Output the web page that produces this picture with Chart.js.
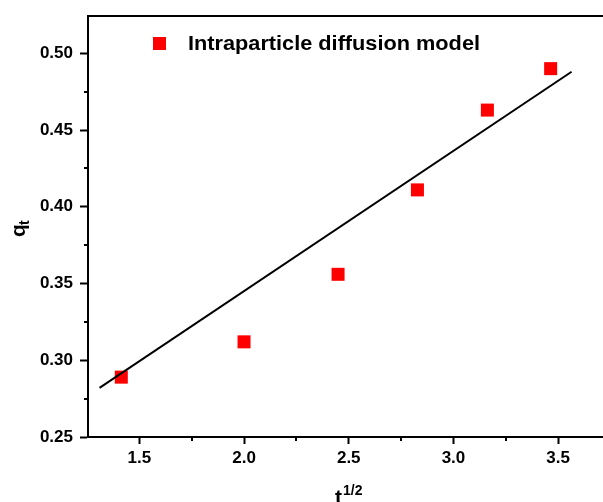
<!DOCTYPE html>
<html>
<head>
<meta charset="utf-8">
<script src="https://cdn.jsdelivr.net/npm/chart.js@4/dist/chart.umd.min.js"></script>
<style>
  html, body { margin: 0; padding: 0; background: #fff; overflow: hidden; }
  #wrap { width: 603px; height: 502px; position: relative; }
</style>
</head>
<body>
<div id="wrap"><canvas id="c" width="603" height="502"></canvas></div>
<script>
// ---- data ----
const tSqrt = [1.414, 2.000, 2.449, 2.828, 3.162, 3.464];
const qt    = [0.289, 0.312, 0.356, 0.411, 0.463, 0.490];
const fitX  = [1.31, 3.564];
const fitY  = [0.282, 0.488];
const seriesName = 'Intraparticle diffusion model';
const xMajorTicks = [1.5, 2.0, 2.5, 3.0, 3.5];
const xMinorTicks = [1.75, 2.25, 2.75, 3.25];
const yMajorTicks = [0.25, 0.30, 0.35, 0.40, 0.45, 0.50];
const yMinorTicks = [0.275, 0.325, 0.375, 0.425, 0.475];

const FONT = '"Liberation Sans", Arial, Helvetica, sans-serif';

const decorPlugin = {
  id: 'decor',
  afterDraw(chart) {
    const ctx = chart.ctx;
    const ca = chart.chartArea;
    const xs = chart.scales.x, ys = chart.scales.y;
    ctx.save();
    ctx.strokeStyle = '#000';
    ctx.lineWidth = 2;
    // top frame line
    ctx.beginPath();
    ctx.moveTo(ca.left - 1, ca.top);
    ctx.lineTo(ca.right + 2, ca.top);
    ctx.stroke();
    // minor ticks
    ctx.beginPath();
    xMinorTicks.forEach(v => {
      const px = Math.round(xs.getPixelForValue(v));
      ctx.moveTo(px, ca.bottom);
      ctx.lineTo(px, ca.bottom + 4);
    });
    yMinorTicks.forEach(v => {
      const py = Math.round(ys.getPixelForValue(v));
      ctx.moveTo(ca.left, py);
      ctx.lineTo(ca.left - 4, py);
    });
    ctx.stroke();

    // legend
    ctx.fillStyle = '#FF0000';
    ctx.fillRect(153, 37, 13, 13);
    ctx.fillStyle = '#000';
    ctx.textAlign = 'left';
    ctx.textBaseline = 'alphabetic';
    ctx.save();
    ctx.translate(188, 49.5);
    ctx.font = 'bold 20px ' + FONT;
    const w = ctx.measureText(seriesName).width;
    ctx.scale(292 / w, 1);
    ctx.fillText(seriesName, 0, 0);
    ctx.restore();

    // x axis title: t^{1/2}
    ctx.font = 'bold 21px ' + FONT;
    ctx.fillText('t', 335, 504);
    ctx.font = 'bold 14px ' + FONT;
    ctx.fillText('1/2', 343, 495);

    // y axis title: q_t (rotated)
    ctx.translate(25, 237);
    ctx.rotate(-Math.PI / 2);
    ctx.font = 'bold 21px ' + FONT;
    ctx.fillText('q', 0, 0);
    ctx.font = 'bold 14px ' + FONT;
    ctx.fillText('t', 12, 4);
    ctx.restore();
  }
};

const tickFont = { family: FONT, size: 17, weight: 'bold' };

new Chart(document.getElementById('c'), {
  type: 'scatter',
  data: {
    datasets: [
      {
        type: 'line',
        label: 'fit',
        data: fitX.map((x, i) => ({ x: x, y: fitY[i] })),
        borderColor: '#000',
        borderWidth: 2,
        pointRadius: 0,
        fill: false,
        order: 0
      },
      {
        label: seriesName,
        data: tSqrt.map((x, i) => ({ x: x, y: qt[i] })),
        backgroundColor: '#FF0000',
        borderColor: '#FF0000',
        borderWidth: 0,
        pointStyle: 'rect',
        pointRadius: 9.2,
        pointHoverRadius: 9.2,
        order: 1
      }
    ]
  },
  options: {
    responsive: false,
    animation: false,
    events: [],
    layout: { autoPadding: false, padding: { top: 16, right: 0, left: 0, bottom: 0 } },
    plugins: { legend: { display: false }, tooltip: { enabled: false } },
    scales: {
      x: {
        type: 'linear',
        min: 1.255,
        max: 3.714,
        afterBuildTicks: s => { s.ticks = xMajorTicks.map(v => ({ value: v })); },
        afterFit: s => { s.height = 65; s.paddingLeft = 0; s.paddingRight = 0; },
        grid: { display: true, drawOnChartArea: false, drawTicks: true, tickLength: 7, tickWidth: 2, tickColor: '#000' },
        border: { display: true, width: 2, color: '#000' },
        ticks: { font: tickFont, color: '#000', padding: 4, maxRotation: 0, autoSkip: false,
                 callback: v => Number(v).toFixed(1) }
      },
      y: {
        type: 'linear',
        min: 0.25,
        max: 0.5243,
        afterBuildTicks: s => { s.ticks = yMajorTicks.map(v => ({ value: v })); },
        afterFit: s => { s.width = 88; s.paddingTop = 0; s.paddingBottom = 0; },
        grid: { display: true, drawOnChartArea: false, drawTicks: true, tickLength: 8, tickWidth: 2, tickColor: '#000' },
        border: { display: true, width: 2, color: '#000' },
        ticks: { font: tickFont, color: '#000', padding: 7, autoSkip: false,
                 callback: v => Number(v).toFixed(2) }
      }
    }
  },
  plugins: [decorPlugin]
});
</script>
</body>
</html>
